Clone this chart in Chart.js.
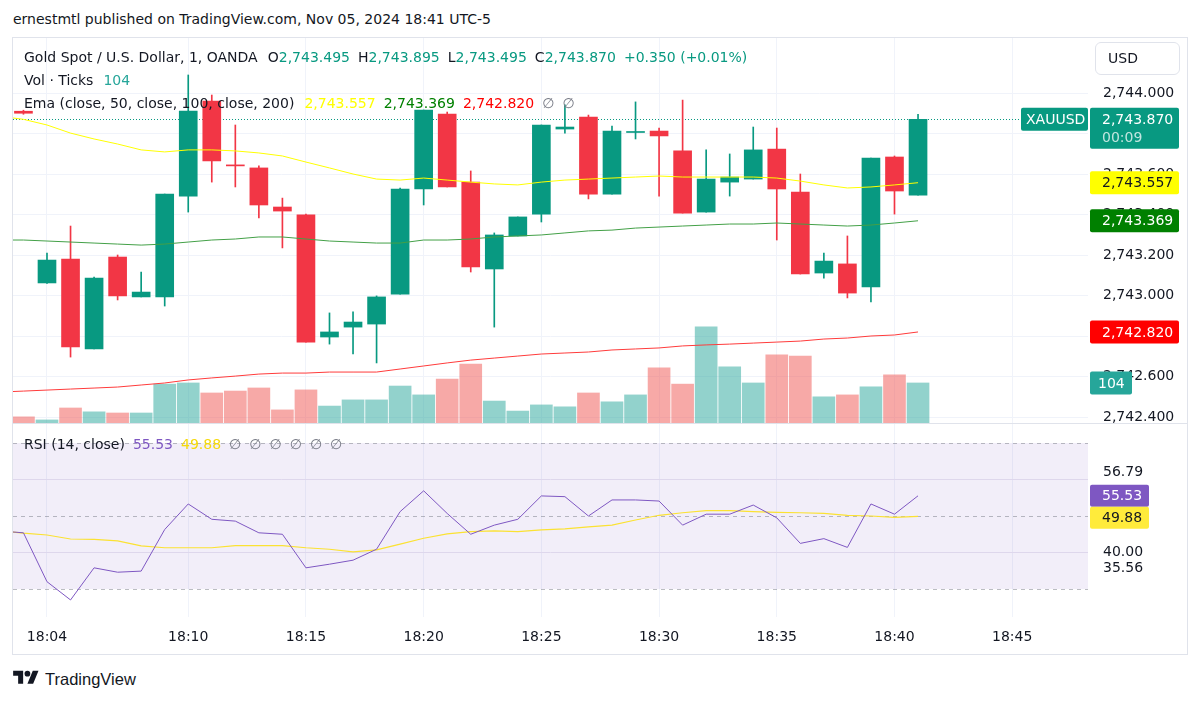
<!DOCTYPE html>
<html>
<head>
<meta charset="utf-8">
<script src="https://cdn.jsdelivr.net/npm/chart.js@4.4.1/dist/chart.umd.min.js"></script>
<style>
  body { margin: 0; background: #fff; width: 1200px; height: 702px; position: relative; overflow: hidden;
         font-family: 'DejaVu Sans', sans-serif; color: #131722; }
  .abs { position: absolute; white-space: nowrap; }
  .lg { font-size: 14px; line-height: 18px; left: 24px; }
  .lg span { margin-left: 8px; }
  .lg span.n { margin-left: 0; }
  .teal { color: #089981; }
  .gray { color: #787b86; }
</style>
</head>
<body>
<div class="abs" style="left:13px;top:10px;font-size:14px;line-height:18px;">ernestmtl published on TradingView.com, Nov 05, 2024 18:41 UTC-5</div>
<div class="abs" style="left:12px;top:37px;width:1174px;height:616px;border:1px solid #e0e3eb;"></div>
<canvas id="main" class="abs" style="left:13px;top:38px" width="1175" height="385"></canvas>
<div class="abs" style="left:13px;top:423px;width:1174px;height:1px;background:#e0e3eb;"></div>
<canvas id="rsi" class="abs" style="left:13px;top:424px" width="1175" height="231"></canvas>

<div class="abs lg" style="top:48px">Gold Spot / U.S. Dollar, 1, OANDA<span style="margin-left:10px">O<span class="n teal">2,743.495</span></span><span>H<span class="n teal">2,743.895</span></span><span>L<span class="n teal">2,743.495</span></span><span>C<span class="n teal">2,743.870</span></span><span class="teal">+0.350 (+0.01%)</span></div>
<div class="abs lg" style="top:71px">Vol · Ticks<span style="margin-left:10px;color:#26a69a">104</span></div>
<div class="abs lg" style="top:94px">Ema (close, 50, close, 100, close, 200)<span style="margin-left:10px;color:#ffff00">2,743.557</span><span style="color:#008000">2,743.369</span><span style="color:#ff0000">2,742.820</span><span class="gray">∅</span><span class="gray">∅</span></div>
<div class="abs lg" style="top:435px">RSI (14, close)<span style="color:#7e57c2">55.53</span><span style="color:#f5d90a">49.88</span><span class="gray">∅</span><span class="gray">∅</span><span class="gray">∅</span><span class="gray">∅</span><span class="gray">∅</span><span class="gray">∅</span></div>

<div class="abs" style="left:1095px;top:42px;width:83px;height:31px;border:1px solid #e0e3eb;border-radius:6px;font-size:14px;line-height:31px;text-indent:12px;">USD</div>

<svg class="abs" style="left:13px;top:668px" width="26" height="20" viewBox="0 0 36 28"><path fill="#131722" d="M14 22H7V11H0V4h14v18zM28 22h-8l7.5-18h8L28 22z"/><circle fill="#131722" cx="20" cy="8" r="4"/></svg>
<div class="abs" style="left:45px;top:669px;font-family:'Liberation Sans',sans-serif;font-size:16.5px;line-height:20px;">TradingView</div>

<script>
// 1-minute XAUUSD candles, 18:02 .. 18:41 (18:02 only carries indicator values)
const times = ['18:02','18:03','18:04','18:05','18:06','18:07','18:08','18:09','18:10','18:11',
               '18:12','18:13','18:14','18:15','18:16','18:17','18:18','18:19','18:20','18:21',
               '18:22','18:23','18:24','18:25','18:26','18:27','18:28','18:29','18:30','18:31',
               '18:32','18:33','18:34','18:35','18:36','18:37','18:38','18:39','18:40','18:41'];

const open  = [null, 2743.910, 2743.062, 2743.180, 2742.736, 2743.190, 2742.993, 2742.993, 2743.491, 2743.960,
               2743.645, 2743.630, 2743.437, 2743.398, 2742.795, 2742.844, 2742.859, 2743.007, 2743.526, 2743.896,
               2743.560, 2743.131, 2743.294, 2743.402, 2743.822, 2743.881, 2743.501, 2743.805, 2743.812, 2743.714,
               2743.412, 2743.560, 2743.575, 2743.723, 2743.511, 2743.111, 2743.156, 2743.042, 2743.684, 2743.495];
const high  = [null, 2743.915, 2743.210, 2743.343, 2743.091, 2743.200, 2743.116, 2743.501, 2744.089, 2743.990,
               2743.842, 2743.640, 2743.481, 2743.402, 2742.914, 2742.919, 2742.998, 2743.531, 2743.916, 2743.906,
               2743.615, 2743.309, 2743.388, 2743.842, 2743.941, 2743.891, 2743.837, 2743.956, 2743.827, 2743.965,
               2743.719, 2743.699, 2743.832, 2743.827, 2743.600, 2743.210, 2743.294, 2743.679, 2743.689, 2743.895];
const low   = [null, 2743.895, 2743.060, 2742.696, 2742.736, 2742.978, 2742.993, 2742.948, 2743.412, 2743.560,
               2743.536, 2743.383, 2743.235, 2742.770, 2742.760, 2742.711, 2742.667, 2743.007, 2743.447, 2743.536,
               2743.116, 2742.844, 2743.294, 2743.363, 2743.802, 2743.477, 2743.501, 2743.773, 2743.491, 2743.407,
               2743.412, 2743.491, 2743.575, 2743.274, 2743.106, 2743.086, 2742.988, 2742.968, 2743.402, 2743.495];
const close = [null, 2743.900, 2743.175, 2742.746, 2743.086, 2742.998, 2743.017, 2743.501, 2743.911, 2743.664,
               2743.640, 2743.447, 2743.417, 2742.770, 2742.820, 2742.869, 2742.993, 2743.526, 2743.916, 2743.536,
               2743.141, 2743.299, 2743.388, 2743.842, 2743.832, 2743.501, 2743.812, 2743.808, 2743.788, 2743.407,
               2743.575, 2743.585, 2743.719, 2743.526, 2743.106, 2743.170, 2743.012, 2743.679, 2743.516, 2743.870];
const volume = [null, 16, 8, 39, 29, 26, 26, 101, 104, 78,
                83, 91, 34, 86, 44, 60, 60, 96, 73, 114,
                153, 57, 31, 47, 42, 78, 55, 73, 143, 101,
                250, 146, 104, 177, 174, 68, 73, 94, 125, 104];

const ema50  = [2743.885, 2743.870, 2743.842, 2743.802, 2743.773, 2743.748, 2743.719, 2743.709, 2743.719, 2743.719,
                2743.714, 2743.704, 2743.689, 2743.659, 2743.630, 2743.600, 2743.575, 2743.570, 2743.580, 2743.570,
                2743.560, 2743.551, 2743.546, 2743.560, 2743.570, 2743.575, 2743.580, 2743.585, 2743.590, 2743.585,
                2743.585, 2743.585, 2743.585, 2743.580, 2743.565, 2743.546, 2743.531, 2743.536, 2743.546, 2743.557];
const ema100 = [2743.274, 2743.274, 2743.269, 2743.264, 2743.259, 2743.254, 2743.249, 2743.254, 2743.264, 2743.274,
                2743.279, 2743.289, 2743.289, 2743.279, 2743.269, 2743.264, 2743.259, 2743.259, 2743.274, 2743.274,
                2743.279, 2743.289, 2743.294, 2743.299, 2743.309, 2743.319, 2743.323, 2743.333, 2743.338, 2743.343,
                2743.348, 2743.353, 2743.353, 2743.358, 2743.353, 2743.348, 2743.343, 2743.348, 2743.358, 2743.369];
const ema200 = [2742.523, 2742.528, 2742.533, 2742.538, 2742.543, 2742.548, 2742.558, 2742.568, 2742.583, 2742.593,
                2742.602, 2742.612, 2742.617, 2742.617, 2742.622, 2742.622, 2742.622, 2742.637, 2742.652, 2742.667,
                2742.681, 2742.691, 2742.701, 2742.711, 2742.716, 2742.721, 2742.731, 2742.736, 2742.741, 2742.751,
                2742.756, 2742.760, 2742.765, 2742.770, 2742.775, 2742.785, 2742.790, 2742.800, 2742.805, 2742.820];

const rsi   = [45.9, 45.4, 32.0, 27.0, 35.8, 34.6, 34.9, 46.3, 53.3, 49.1,
               48.6, 45.4, 45.0, 35.8, 36.8, 37.9, 40.9, 51.2, 56.9, 50.7,
               45.0, 47.5, 49.1, 55.5, 55.3, 50.0, 54.4, 54.4, 54.1, 47.5,
               50.5, 50.5, 53.0, 49.5, 42.5, 43.8, 41.4, 53.3, 50.5, 55.53];
const rsiMa = [46.0, 45.3, 44.8, 43.7, 43.6, 43.2, 41.8, 41.3, 41.3, 41.3,
               41.9, 41.9, 41.9, 41.3, 40.9, 40.2, 40.7, 42.3, 43.9, 45.1,
               45.7, 45.9, 45.7, 46.2, 46.5, 47.0, 47.5, 48.9, 50.2, 50.9,
               51.5, 51.5, 51.2, 51.0, 50.9, 50.7, 50.2, 50.0, 49.6, 49.88];

const timeTicks  = ['18:04','18:10','18:15','18:20','18:25','18:30','18:35','18:40','18:45'];
const priceTicks = [2742.4, 2742.6, 2742.8, 2743.0, 2743.2, 2743.4, 2743.6, 2743.8, 2744.0];
const rsiGrid    = [40, 60];
const rsiLevels  = [70, 50, 30];
const rsiSideLabels = [56.79, 35.56];

const FONT = "'DejaVu Sans', sans-serif";
const TEXT = '#131722';
const GRID = '#f0f3fa';
const UP = '#089981', DOWN = '#f23645';
const UP_VOL = 'rgba(38,166,154,0.5)', DOWN_VOL = 'rgba(239,83,80,0.5)';
const X_MIN = 2.556, X_MAX = 48.22;

const minuteOf = t => +t.split(':')[1];
const xs = times.map(minuteOf);
const fmtPrice = v => v.toLocaleString('en-US', { minimumFractionDigits: 3, maximumFractionDigits: 3 });

// candles: only minutes that have OHLC
const idx = xs.map((_, i) => i).filter(i => open[i] !== null);
const isUp = i => close[i] >= open[i];
const bodies = idx.map(i => ({ x: xs[i], y: [open[i], close[i]] }));
const wicks  = idx.map(i => ({ x: xs[i], y: [low[i], high[i]] }));
const vols   = idx.map(i => ({ x: xs[i], y: volume[i] }));
const candleColors = idx.map(i => isUp(i) ? UP : DOWN);
const volColors = idx.map(i => isUp(i) ? UP_VOL : DOWN_VOL);
const line = (arr) => xs.map((x, i) => ({ x, y: arr[i] }));

function timeAxis(showLabels) {
    return {
        type: 'linear', min: X_MIN, max: X_MAX, offset: false,
        afterBuildTicks: s => { s.ticks = timeTicks.map(t => ({ value: minuteOf(t) })); },
        ticks: {
            display: showLabels, color: TEXT, font: { family: FONT, size: 14 }, padding: 12,
            maxRotation: 0, autoSkip: false,
            callback: v => timeTicks.find(t => minuteOf(t) === v) ?? ''
        },
        grid: { color: GRID, drawTicks: false, offset: false },
        border: { display: false },
        afterFit: s => { s.height = showLabels ? 38 : 0; s.paddingLeft = 0; s.paddingRight = 0; }
    };
}

function labelBox(ctx, x, yMid, w, h, bg, fg, text, pad = 12) {
    ctx.fillStyle = bg;
    ctx.beginPath();
    ctx.roundRect(x, yMid - h / 2, w, h, 2);
    ctx.fill();
    ctx.fillStyle = fg;
    ctx.font = '14px ' + FONT;
    ctx.textAlign = 'left';
    ctx.textBaseline = 'middle';
    ctx.fillText(text, x + pad, yMid + 1);
}

const mainOverlay = {
    id: 'mainOverlay',
    beforeDatasetsDraw(chart) {
        const { ctx, chartArea: a, scales: { y } } = chart;
        const last = close[close.length - 1];
        ctx.save();
        ctx.strokeStyle = UP;
        ctx.setLineDash([1, 2]);
        ctx.lineWidth = 1;
        const py = Math.round(y.getPixelForValue(last)) + 0.5;
        ctx.beginPath(); ctx.moveTo(a.left, py); ctx.lineTo(a.right, py); ctx.stroke();
        ctx.restore();
    },
    afterDraw(chart) {
        const { ctx, chartArea: a, scales: { y, yVol } } = chart;
        const bx = a.right + 2, bw = 89, h = 23;
        const last = close[close.length - 1];
        ctx.save();
        const pl = y.getPixelForValue(last);
        labelBox(ctx, a.right - 67, pl, 67, h, UP, '#fff', 'XAUUSD', 5);
        ctx.fillStyle = UP;
        ctx.beginPath(); ctx.roundRect(bx, pl - 11.5, bw, 41, 2); ctx.fill();
        ctx.fillStyle = '#fff'; ctx.font = '14px ' + FONT; ctx.textBaseline = 'middle';
        ctx.fillText(fmtPrice(last), bx + 12, pl + 1);
        ctx.fillStyle = 'rgba(255,255,255,0.75)';
        ctx.fillText('00:09', bx + 12, pl + 19);
        const e50 = ema50[ema50.length - 1], e100 = ema100[ema100.length - 1], e200 = ema200[ema200.length - 1];
        labelBox(ctx, bx, y.getPixelForValue(e50), bw, h, '#ffff00', TEXT, fmtPrice(e50));
        labelBox(ctx, bx, y.getPixelForValue(e100), bw, h, '#008000', '#fff', fmtPrice(e100));
        labelBox(ctx, bx, y.getPixelForValue(e200), bw, h, '#ff0000', '#fff', fmtPrice(e200));
        const v = volume[volume.length - 1];
        labelBox(ctx, bx, yVol.getPixelForValue(v), 42, h, '#26a69a', '#fff', String(v), 8);
        ctx.restore();
    }
};

new Chart(document.getElementById('main'), {
    type: 'bar',
    data: {
        datasets: [
            { type: 'line', data: line(ema50),  borderColor: '#ffff00', borderWidth: 1, pointRadius: 0, order: 0 },
            { type: 'line', data: line(ema100), borderColor: '#43a047', borderWidth: 1, pointRadius: 0, order: 0 },
            { type: 'line', data: line(ema200), borderColor: '#ff3b3b', borderWidth: 1, pointRadius: 0, order: 0 },
            { data: bodies, backgroundColor: candleColors, barThickness: 18, minBarLength: 1, grouped: false, order: 1 },
            { data: wicks, backgroundColor: candleColors, barThickness: 1, grouped: false, order: 2 },
            { data: vols, yAxisID: 'yVol', backgroundColor: volColors, barThickness: 22, grouped: false, order: 3 }
        ]
    },
    options: {
        responsive: false, animation: false, devicePixelRatio: 1,
        layout: { padding: 0 },
        plugins: { legend: { display: false }, tooltip: { enabled: false } },
        scales: {
            x: timeAxis(false),
            y: {
                position: 'right', min: 2742.3704, max: 2744.2716,
                afterBuildTicks: s => { s.ticks = priceTicks.map(v => ({ value: v })); },
                ticks: { color: TEXT, font: { family: FONT, size: 14 }, padding: 15, callback: v => fmtPrice(v) },
                grid: { color: GRID, drawTicks: false },
                border: { display: false },
                afterFit: s => { s.width = 100; s.paddingTop = 0; s.paddingBottom = 0; }
            },
            yVol: { display: false, position: 'left', min: 0, max: 1000 }
        }
    },
    plugins: [mainOverlay]
});

const rsiOverlay = {
    id: 'rsiOverlay',
    beforeDatasetsDraw(chart) {
        const { ctx, chartArea: a, scales: { y } } = chart;
        ctx.save();
        const top = y.getPixelForValue(rsiLevels[0]), bot = y.getPixelForValue(rsiLevels[2]);
        ctx.fillStyle = 'rgba(126,87,194,0.1)';
        ctx.fillRect(a.left, top, a.right - a.left, bot - top);
        ctx.strokeStyle = 'rgba(120,123,134,0.5)';
        ctx.setLineDash([4, 4]);
        ctx.lineWidth = 1;
        rsiLevels.forEach(l => {
            const py = Math.round(y.getPixelForValue(l)) + 0.5;
            ctx.beginPath(); ctx.moveTo(a.left, py); ctx.lineTo(a.right, py); ctx.stroke();
        });
        ctx.restore();
    },
    afterDraw(chart) {
        const { ctx, chartArea: a, scales: { y } } = chart;
        const bx = a.right + 2, h = 22;
        const r = rsi[rsi.length - 1], m = rsiMa[rsiMa.length - 1];
        const rMid = y.getPixelForValue(r);
        const mMid = Math.max(y.getPixelForValue(m), rMid + h);
        ctx.save();
        ctx.fillStyle = TEXT; ctx.font = '14px ' + FONT; ctx.textBaseline = 'middle'; ctx.textAlign = 'left';
        const upY = Math.min(y.getPixelForValue(rsiSideLabels[0]), rMid - h / 2 - 12);
        ctx.fillText(rsiSideLabels[0].toFixed(2), a.right + 15, upY);
        ctx.fillText(rsiSideLabels[1].toFixed(2), a.right + 15, y.getPixelForValue(rsiSideLabels[1]));
        labelBox(ctx, bx, rMid, 59, h, '#7e57c2', '#fff', r.toFixed(2));
        labelBox(ctx, bx, mMid, 59, h, '#ffeb3b', TEXT, m.toFixed(2));
        ctx.restore();
    }
};

new Chart(document.getElementById('rsi'), {
    type: 'line',
    data: {
        datasets: [
            { data: line(rsi),   borderColor: '#7e57c2', borderWidth: 1, pointRadius: 0, order: 0 },
            { data: line(rsiMa), borderColor: '#fbe233', borderWidth: 1.2, pointRadius: 0, order: 1 }
        ]
    },
    options: {
        responsive: false, animation: false, devicePixelRatio: 1,
        layout: { padding: 0 },
        plugins: { legend: { display: false }, tooltip: { enabled: false } },
        scales: {
            x: timeAxis(true),
            y: {
                position: 'right', min: 22.33, max: 75.21,
                afterBuildTicks: s => { s.ticks = rsiGrid.map(v => ({ value: v })); },
                ticks: { color: TEXT, font: { family: FONT, size: 14 }, padding: 15,
                         callback: v => v === rsiGrid[0] ? v.toFixed(2) : '' },
                grid: { color: '#e9e6f1', drawTicks: false },
                border: { display: false },
                afterFit: s => { s.width = 100; s.paddingTop = 0; s.paddingBottom = 0; }
            }
        }
    },
    plugins: [rsiOverlay]
});
</script>
</body>
</html>
